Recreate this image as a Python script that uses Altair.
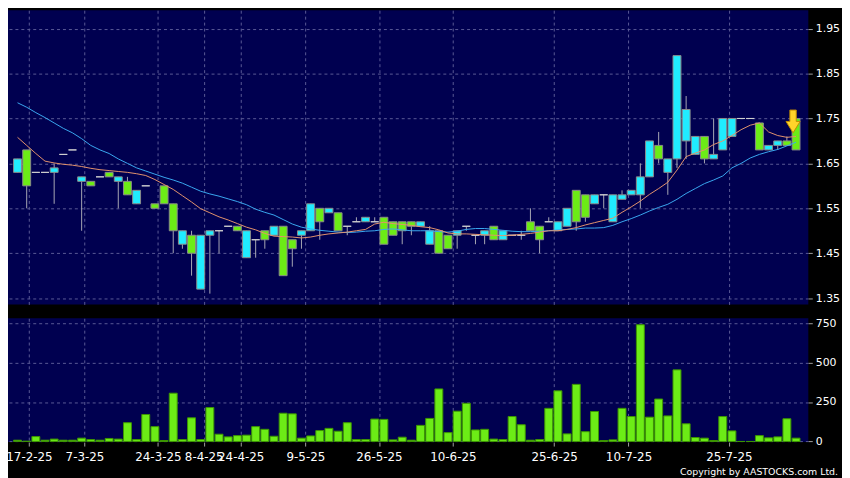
import altair as alt
import pandas as pd

# ---------------- data ----------------
opens = [1.63, 1.68, 1.63, 1.63, 1.63, 1.67, 1.68, 1.61, 1.61, 1.62,
         1.63, 1.61, 1.61, 1.56, 1.60, 1.56, 1.60, 1.56, 1.47, 1.49,
         1.37, 1.49, 1.50, 1.51, 1.51, 1.44, 1.48, 1.50, 1.49, 1.51,
         1.48, 1.49, 1.50, 1.55, 1.54, 1.54, 1.51, 1.52, 1.52, 1.52,
         1.53, 1.52, 1.52, 1.52, 1.51, 1.47, 1.50, 1.49, 1.49, 1.51,
         1.49, 1.49, 1.51, 1.48, 1.49, 1.49, 1.52, 1.51, 1.52, 1.50,
         1.51, 1.59, 1.58, 1.56, 1.58, 1.52, 1.57, 1.58, 1.58, 1.62,
         1.69, 1.63, 1.66, 1.70, 1.67, 1.71, 1.66, 1.68, 1.71, 1.75,
         1.75, 1.74, 1.68, 1.69, 1.70, 1.75]

closes = [1.66, 1.60, 1.63, 1.63, 1.64, 1.67, 1.68, 1.62, 1.60, 1.62,
          1.62, 1.62, 1.58, 1.59, 1.60, 1.55, 1.56, 1.50, 1.50, 1.45,
          1.49, 1.50, 1.50, 1.51, 1.50, 1.50, 1.48, 1.48, 1.51, 1.40,
          1.46, 1.50, 1.56, 1.52, 1.55, 1.50, 1.51, 1.52, 1.53, 1.52,
          1.47, 1.49, 1.50, 1.51, 1.52, 1.50, 1.45, 1.46, 1.50, 1.51,
          1.49, 1.50, 1.48, 1.50, 1.49, 1.49, 1.50, 1.48, 1.52, 1.52,
          1.55, 1.52, 1.53, 1.58, 1.58, 1.58, 1.58, 1.59, 1.62, 1.70,
          1.66, 1.66, 1.89, 1.77, 1.71, 1.66, 1.67, 1.75, 1.75, 1.75,
          1.75, 1.68, 1.69, 1.70, 1.69, 1.68]

highs = [1.66, 1.68, 1.63, 1.63, 1.65, 1.67, 1.68, 1.62, 1.61, 1.62,
         1.63, 1.62, 1.62, 1.59, 1.60, 1.56, 1.60, 1.56, 1.50, 1.50,
         1.49, 1.50, 1.50, 1.51, 1.51, 1.50, 1.48, 1.50, 1.51, 1.51,
         1.48, 1.50, 1.56, 1.55, 1.55, 1.54, 1.51, 1.53, 1.53, 1.53,
         1.53, 1.52, 1.52, 1.52, 1.52, 1.51, 1.50, 1.49, 1.50, 1.51,
         1.49, 1.50, 1.51, 1.50, 1.49, 1.50, 1.55, 1.51, 1.53, 1.52,
         1.55, 1.59, 1.58, 1.58, 1.58, 1.58, 1.59, 1.59, 1.65, 1.70,
         1.72, 1.66, 1.89, 1.80, 1.71, 1.71, 1.75, 1.75, 1.75, 1.75,
         1.75, 1.74, 1.69, 1.70, 1.71, 1.75]

lows = [1.63, 1.55, 1.63, 1.63, 1.56, 1.67, 1.68, 1.50, 1.60, 1.62,
        1.62, 1.55, 1.58, 1.56, 1.60, 1.55, 1.56, 1.45, 1.46, 1.40,
        1.37, 1.36, 1.45, 1.51, 1.50, 1.44, 1.44, 1.46, 1.49, 1.40,
        1.42, 1.46, 1.50, 1.48, 1.54, 1.50, 1.49, 1.52, 1.52, 1.52,
        1.47, 1.49, 1.47, 1.49, 1.51, 1.47, 1.45, 1.46, 1.46, 1.50,
        1.47, 1.47, 1.48, 1.48, 1.49, 1.48, 1.50, 1.45, 1.52, 1.50,
        1.51, 1.50, 1.52, 1.56, 1.55, 1.52, 1.57, 1.58, 1.55, 1.62,
        1.65, 1.58, 1.64, 1.66, 1.67, 1.65, 1.66, 1.68, 1.71, 1.75,
        1.75, 1.68, 1.68, 1.68, 1.69, 1.68]

volumes = [8, 2, 31, 8, 15, 8, 8, 21, 12, 8,
           19, 15, 119, 12, 171, 94, 6, 306, 12, 150,
           12, 215, 46, 29, 37, 40, 94, 77, 33, 179,
           175, 21, 35, 69, 83, 65, 119, 12, 12, 142,
           140, 10, 27, 8, 102, 146, 333, 56, 192, 242,
           73, 77, 15, 12, 158, 106, 8, 12, 210, 321,
           48, 362, 62, 190, 6, 10, 210, 158, 740, 154,
           269, 162, 454, 112, 25, 21, 6, 158, 67, 0,
           0, 37, 23, 29, 144, 21]

ma_fast = [1.708, 1.69, 1.672, 1.655, 1.651, 1.648, 1.646, 1.643, 1.639, 1.636,
           1.634, 1.632, 1.63, 1.627, 1.623, 1.614, 1.603, 1.592, 1.578, 1.564,
           1.549, 1.54, 1.531, 1.524, 1.516, 1.508, 1.502, 1.494, 1.488, 1.487,
           1.486, 1.484, 1.486, 1.49, 1.493, 1.495, 1.497, 1.50, 1.503, 1.515,
           1.519, 1.516, 1.514, 1.512, 1.509, 1.507, 1.502, 1.495, 1.493, 1.493,
           1.492, 1.491, 1.49, 1.489, 1.49, 1.492, 1.494, 1.497, 1.50, 1.50,
           1.503, 1.507, 1.513, 1.518, 1.523, 1.528, 1.541, 1.553, 1.566, 1.581,
           1.594, 1.608, 1.635, 1.665, 1.673, 1.68, 1.692, 1.70, 1.712, 1.725,
           1.735, 1.74, 1.72, 1.712, 1.708, 1.71]

ma_slow = [1.785, 1.775, 1.763, 1.752, 1.74, 1.728, 1.718, 1.705, 1.69, 1.68,
           1.672, 1.66, 1.65, 1.64, 1.633, 1.626, 1.619, 1.613, 1.606, 1.597,
           1.588, 1.582, 1.577, 1.571, 1.565, 1.558, 1.548, 1.541, 1.535, 1.525,
           1.515, 1.508, 1.504, 1.501, 1.499, 1.497, 1.496, 1.497, 1.499, 1.50,
           1.503, 1.504, 1.502, 1.50, 1.50, 1.50, 1.498, 1.497, 1.499, 1.503,
           1.505, 1.505, 1.503, 1.501, 1.499, 1.498, 1.498, 1.499, 1.50, 1.502,
           1.503, 1.504, 1.506, 1.506, 1.507, 1.512, 1.52, 1.527, 1.535, 1.544,
           1.552, 1.559, 1.57, 1.583, 1.594, 1.605, 1.613, 1.622, 1.64, 1.65,
           1.662, 1.67, 1.676, 1.681, 1.689, 1.697]

tick_labels = ["17-2-25", "7-3-25", "24-3-25", "8-4-25", "24-4-25", "9-5-25",
               "26-5-25", "10-6-25", "25-6-25", "10-7-25", "25-7-25"]
tick_pos = [1.25, 7.31, 15.33, 20.33, 24.37, 31.43, 39.46, 47.53, 58.59, 66.71, 77.66]

price_ticks = [1.35, 1.4, 1.45, 1.5, 1.55, 1.6, 1.65, 1.7, 1.75, 1.8, 1.85, 1.9, 1.95]
volume_ticks = [0, 250, 500, 750]
copyright_text = ["Copyright by AASTOCKS.com Ltd."]

# ---------------- table ----------------
n = len(opens)
df = pd.DataFrame({
    "idx": list(range(n)),
    "open": opens, "high": highs, "low": lows, "close": closes,
    "vol": volumes, "ma_fast": ma_fast, "ma_slow": ma_slow,
})
df["dir"] = ["up" if c > o else ("down" if c < o else "flat") for o, c in zip(opens, closes)]

# ---------------- styling ----------------
NAVY = "#000050"
GRID = "#5a5a96"
CYAN = "#20ecff"
GREEN = "#6cec16"
FONT = "DejaVu Sans"

x_scale = alt.Scale(domain=[-0.5, 85.8], nice=False, zero=False)
yp_scale = alt.Scale(domain=[1.336, 1.991], nice=False, zero=False)
yv_scale = alt.Scale(domain=[-4, 781], nice=False, zero=False)

label_expr = ("[" + ",".join("'%s'" % t for t in tick_labels) + "][indexof(["
              + ",".join(str(p) for p in tick_pos) + "], datum.value)]")

base = alt.Chart(df)

x_price = alt.X("idx:Q", scale=x_scale,
                axis=alt.Axis(values=tick_pos, labels=False, ticks=False, domain=False,
                              grid=True, gridColor=GRID, gridDash=[3, 3], gridWidth=1,
                              title=None))
y_axis_price = alt.Axis(orient="right", values=price_ticks, format=".2~f",
                        labelColor="white", labelFont=FONT, labelFontSize=11,
                        labelOverlap=False, labelFlush=False,
                        tickColor="#a0a0a0", tickSize=4, labelPadding=3, domain=False,
                        grid=True, gridColor=GRID, gridDash=[3, 3], gridWidth=1,
                        title=None)

wicks = base.mark_rule(color="#a8a8b4", strokeWidth=1).encode(
    x=x_price,
    y=alt.Y("low:Q", scale=yp_scale, axis=y_axis_price),
    y2="high:Q",
)

bodies = base.mark_bar(size=8, strokeWidth=1).encode(
    x=alt.X("idx:Q", scale=x_scale),
    y=alt.Y("open:Q", scale=yp_scale),
    y2="close:Q",
    color=alt.Color("dir:N", scale=alt.Scale(domain=["up", "down", "flat"],
                                             range=[CYAN, GREEN, "#d0d0d0"]),
                    legend=None),
    stroke=alt.condition("datum.dir == 'flat'", alt.value("#d0d0d0"), alt.value("#8a8a8a")),
)

line_fast = base.mark_line(color="#e3936c", strokeWidth=1).encode(
    x=alt.X("idx:Q", scale=x_scale), y=alt.Y("ma_fast:Q", scale=yp_scale))
line_slow = base.mark_line(color="#3aa8f0", strokeWidth=1).encode(
    x=alt.X("idx:Q", scale=x_scale), y=alt.Y("ma_slow:Q", scale=yp_scale))

ARROW = "M-0.28,-1L0.28,-1L0.28,0L0.62,0L0,1L-0.62,0L-0.28,0Z"
arrow = alt.Chart(df.tail(1)).mark_point(
    shape=ARROW, size=529, filled=True, fill="#ffd42a", stroke="#c08a00",
    strokeWidth=1, opacity=1, xOffset=-3, yOffset=3,
).encode(x=alt.X("idx:Q", scale=x_scale), y=alt.Y("high:Q", scale=yp_scale))

price = alt.layer(wicks, bodies, line_slow, line_fast, arrow).properties(width=808, height=297)

x_vol = alt.X("idx:Q", scale=x_scale,
              axis=alt.Axis(values=tick_pos, labelExpr=label_expr, labelColor="white",
                            labelFont=FONT, labelFontSize=12, labelOverlap=False,
                            labelFlush=False, tickColor="#a0a0a0", tickSize=4,
                            labelPadding=6, domain=False, grid=True, gridColor=GRID,
                            gridDash=[3, 3], gridWidth=1, title=None))
y_axis_vol = alt.Axis(orient="right", values=volume_ticks, format="d",
                      labelColor="white", labelFont=FONT, labelFontSize=11,
                      labelOverlap=False, labelFlush=False,
                      tickColor="#a0a0a0", tickSize=4, labelPadding=3, domain=False,
                      grid=True, gridColor=GRID, gridDash=[3, 3], gridWidth=1,
                      title=None)

vol_bars = base.mark_bar(size=8, color=GREEN, stroke="#3d9600", strokeWidth=1).encode(
    x=x_vol,
    y=alt.Y("vol:Q", scale=yv_scale, axis=y_axis_vol),
    y2=alt.datum(0),
)

copy_mark = alt.Chart(pd.DataFrame({"t": copyright_text})).mark_text(
    align="right", baseline="middle", color="white", font=FONT, fontSize=9.5,
).encode(x=alt.value(838), y=alt.value(155), text="t:N")

volume = alt.layer(vol_bars, copy_mark).properties(width=808, height=125)

chart = alt.vconcat(price, volume, spacing=14).properties(
    background="#000000",
    bounds="flush",
    autosize=alt.AutoSizeParams(type="none"),
    padding={"left": 0, "top": 0, "right": 34, "bottom": 470},
).configure_view(fill=NAVY, stroke=None)

chart.save("out.html", embed_options={"renderer": "svg", "actions": False})
